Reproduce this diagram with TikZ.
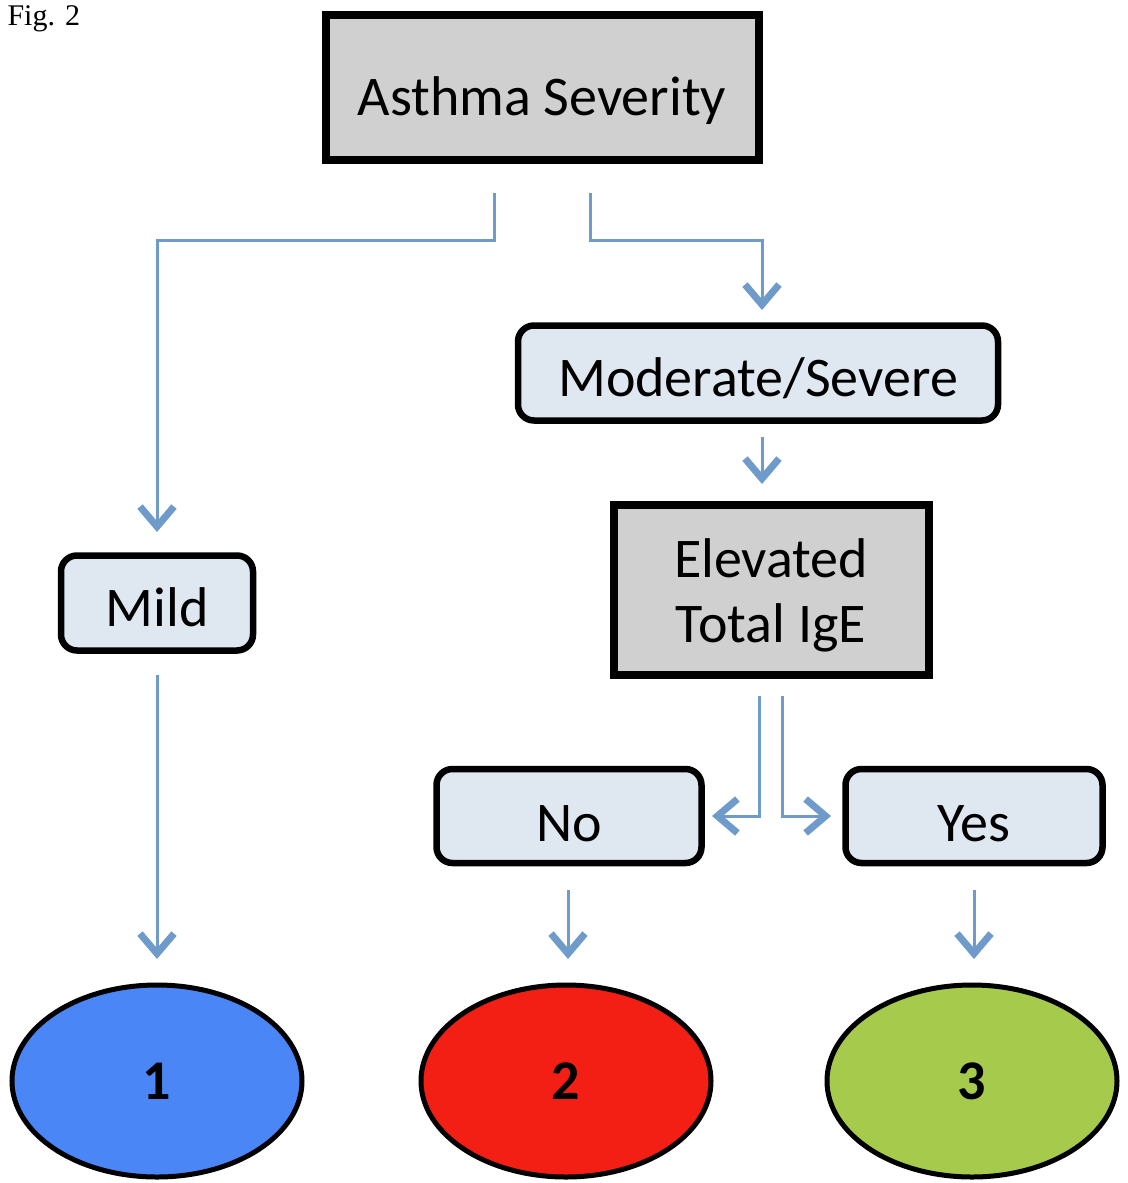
\documentclass[tikz,border=0pt]{standalone}
\usepackage{fontspec}
\setmainfont{Carlito}
\newfontfamily\figfont{Liberation Serif}
\usetikzlibrary{arrows.meta,shapes.geometric}
\definecolor{connblue}{HTML}{6F9BCB}
\definecolor{boxgray}{HTML}{D0D0D0}
\definecolor{boxblue}{HTML}{DFE7F1}
\definecolor{resblue}{HTML}{4A86F6}
\definecolor{resred}{HTML}{F31F14}
\definecolor{resgreen}{HTML}{A6CB4C}
\tikzset{
  graybox/.style={draw=black, line width=8pt, fill=boxgray, inner sep=0pt,
    font=\fontsize{56}{65}\selectfont, align=center},
  bluebox/.style={draw=black, line width=6.5pt, rounded corners=16pt, fill=boxblue,
    inner sep=0pt, font=\fontsize{56}{65}\selectfont, align=center,
    text depth=0pt},
  result/.style={ellipse, draw=black, line width=5pt, inner sep=0pt,
    minimum width=290pt, minimum height=192pt,
    font=\bfseries\fontsize{56}{65}\selectfont},
  conn/.style={draw=connblue, line width=3pt},
  arr/.style={conn, -{Straight Barb[length=20pt,width=34pt,line width=7pt]}}
}
\begin{document}
\begin{tikzpicture}[x=1pt,y=-1pt]
\useasboundingbox (0,0) rectangle (1127,1183);
\fill[white] (0,0) rectangle (1127,1183);

\node[anchor=base west, font=\figfont\fontsize{30}{34}\selectfont] (fig) at (4,25) {Fig. 2};

% boxes
\node[graybox, minimum width=433pt, minimum height=145pt, text height=56pt, text depth=0pt] (asthma) at (542,87) {Asthma Severity};
\node[bluebox, minimum width=480pt, minimum height=95pt, text height=46pt] (mod) at (758,373) {Moderate/Severe};
\node[graybox, minimum width=315pt, minimum height=170pt] (ige) at (771,590) {\rule{0pt}{50pt}Elevated\\Total IgE};
\node[bluebox, minimum width=192pt, minimum height=95pt, text height=46pt] (mild) at (157,603) {Mild};
\node[bluebox, minimum width=265pt, minimum height=94pt, text height=50pt] (no) at (569,816) {No};
\node[bluebox, minimum width=257pt, minimum height=94pt, text height=50pt] (yes) at (974,816) {Yes};

% results
\node[result, fill=resblue] (r1) at (157,1081) {1};
\node[result, fill=resred] (r2) at (566,1081) {2};
\node[result, fill=resgreen] (r3) at (972,1081) {3};

% connector end points
\coordinate (aL) at (494,193);
\coordinate (aR) at (590,193);
\coordinate (mildTip) at (157,532);
\coordinate (modTip) at (762,310);
\coordinate (mS) at (762,437);
\coordinate (igeTip) at (762,484);
\coordinate (iL) at (759,696);
\coordinate (iR) at (782,696);
\coordinate (noTip) at (712,816);
\coordinate (yesTip) at (831,816);
\coordinate (mildS) at (157,675);
\coordinate (noS) at (568,890);
\coordinate (yesS) at (974,890);
\coordinate (t1) at (157,959);
\coordinate (t2) at (568,959);
\coordinate (t3) at (974,959);

% connectors
\draw[arr] (aL) -- (494,240) -| (mildTip);
\draw[arr] (aR) -- (590,240) -| (modTip);
\draw[arr] (mS) -- (igeTip);
\draw[arr] (iL) |- (noTip);
\draw[arr] (iR) |- (yesTip);
\draw[arr] (mildS) -- (t1);
\draw[arr] (noS) -- (t2);
\draw[arr] (yesS) -- (t3);
\end{tikzpicture}
\end{document}
